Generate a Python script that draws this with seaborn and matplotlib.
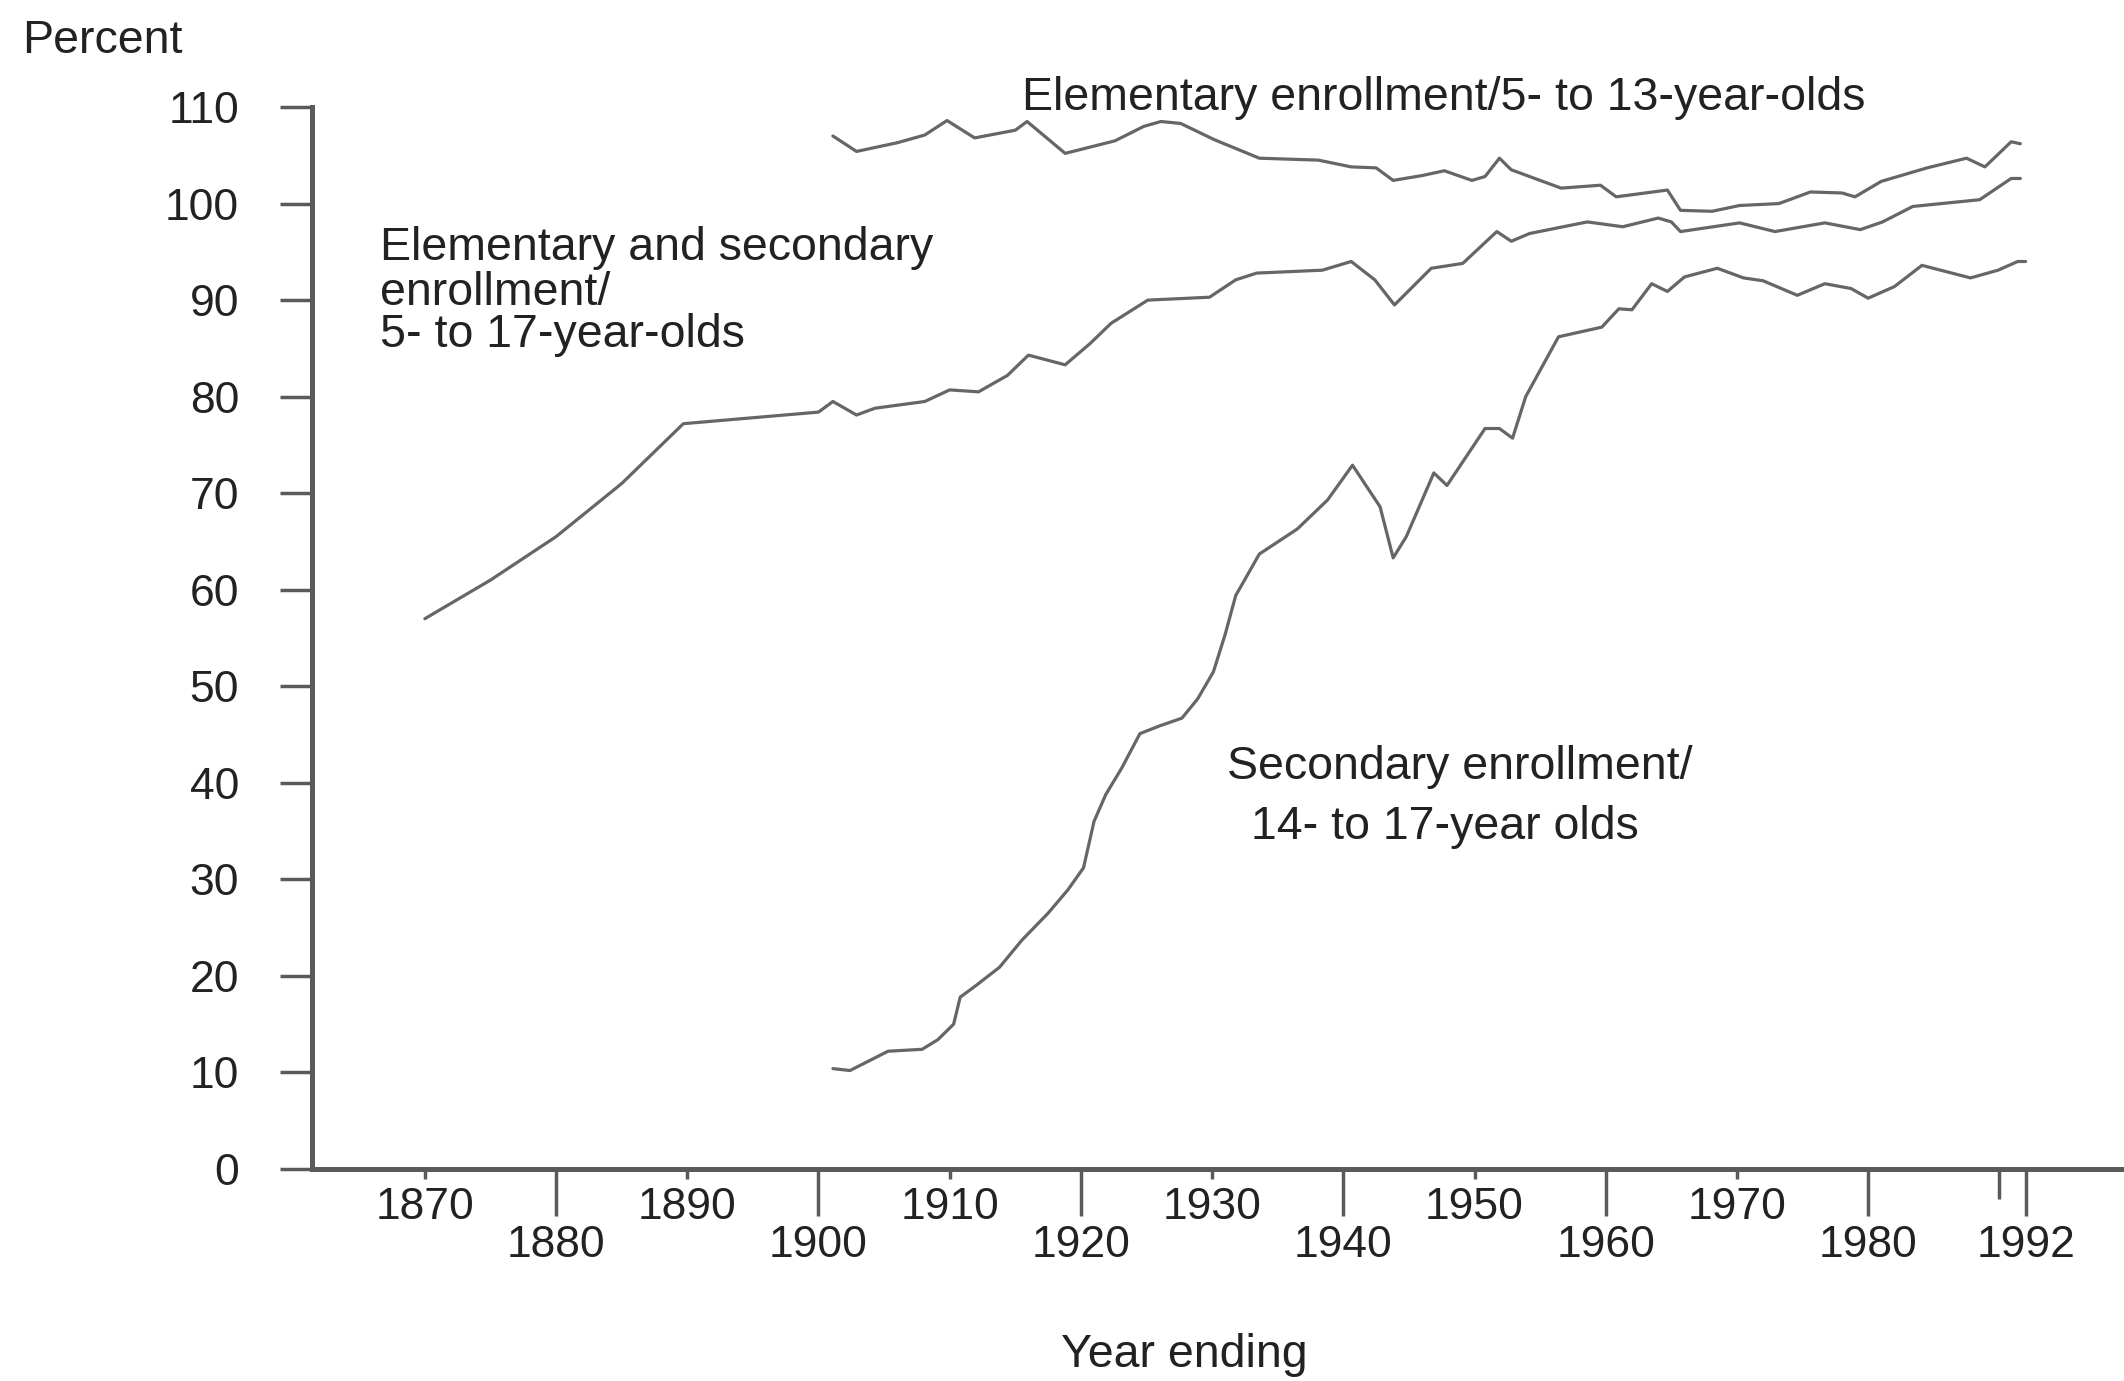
import matplotlib
matplotlib.use("Agg")
import matplotlib.pyplot as plt
import pandas as pd
import seaborn as sns

# Elementary enrollment / 5- to 13-year-olds
elem_years = [1901.1, 1902.9, 1906.0, 1908.1, 1909.8, 1911.9, 1915.0, 1915.9, 1918.8,
              1922.6, 1924.8, 1926.1, 1927.6, 1930.2, 1933.6, 1938.1, 1940.6, 1942.5,
              1943.8, 1946.0, 1947.7, 1949.8, 1950.8, 1951.9, 1952.8, 1956.6, 1959.6,
              1960.8, 1964.7, 1965.7, 1968.1, 1970.2, 1973.2, 1975.6, 1978.0, 1979.0,
              1981.0, 1984.5, 1987.5, 1988.9, 1990.9, 1991.6]
elem_pct = [107.0, 105.4, 106.3, 107.1, 108.6, 106.8, 107.6, 108.5, 105.2,
            106.5, 108.0, 108.5, 108.3, 106.6, 104.7, 104.5, 103.8, 103.7,
            102.4, 102.9, 103.4, 102.4, 102.8, 104.7, 103.5, 101.6, 101.9,
            100.7, 101.4, 99.3, 99.2, 99.8, 100.0, 101.2, 101.1, 100.7,
            102.3, 103.7, 104.7, 103.8, 106.4, 106.2]

# Elementary and secondary enrollment / 5- to 17-year-olds
all_years = [1870.0, 1875.0, 1880.0, 1885.0, 1889.7, 1900.0, 1901.1, 1902.9, 1904.3,
             1908.1, 1910.0, 1912.2, 1914.4, 1916.0, 1918.8, 1920.7, 1922.3, 1925.1,
             1929.8, 1931.8, 1933.4, 1938.4, 1940.6, 1942.4, 1943.9, 1946.7, 1949.1,
             1951.7, 1952.8, 1954.2, 1958.6, 1961.3, 1964.0, 1965.0, 1965.7, 1970.2,
             1972.9, 1976.7, 1979.4, 1981.1, 1983.4, 1988.5, 1990.9, 1991.6]
all_pct = [57.0, 61.0, 65.5, 71.0, 77.2, 78.4, 79.5, 78.1, 78.8,
           79.5, 80.7, 80.5, 82.2, 84.3, 83.3, 85.5, 87.6, 90.0,
           90.3, 92.1, 92.8, 93.1, 94.0, 92.1, 89.5, 93.3, 93.8,
           97.1, 96.1, 96.9, 98.1, 97.6, 98.5, 98.1, 97.1, 98.0,
           97.1, 98.0, 97.3, 98.1, 99.7, 100.4, 102.6, 102.6]

# Secondary enrollment / 14- to 17-year olds
sec_years = [1901.1, 1902.4, 1905.3, 1907.9, 1909.1, 1910.3, 1910.8, 1912.0, 1913.8,
             1915.5, 1917.5, 1919.0, 1920.2, 1921.0, 1921.9, 1923.1, 1924.5, 1926.0,
             1927.7, 1928.9, 1930.1, 1931.0, 1931.8, 1933.6, 1936.5, 1938.8, 1940.7,
             1942.8, 1943.8, 1944.8, 1946.9, 1947.9, 1950.8, 1951.9, 1952.9, 1953.9,
             1956.4, 1959.7, 1961.0, 1962.0, 1963.5, 1964.7, 1966.0, 1968.5, 1970.5,
             1972.0, 1974.6, 1976.7, 1978.7, 1980.0, 1982.0, 1984.1, 1987.8, 1989.9,
             1991.4, 1992.0]
sec_pct = [10.4, 10.2, 12.2, 12.4, 13.4, 15.0, 17.8, 19.0, 20.9,
           23.7, 26.5, 28.9, 31.2, 36.0, 38.8, 41.5, 45.1, 45.9,
           46.7, 48.7, 51.5, 55.4, 59.4, 63.7, 66.3, 69.3, 72.9,
           68.6, 63.3, 65.5, 72.1, 70.8, 76.7, 76.7, 75.7, 80.0,
           86.2, 87.2, 89.1, 89.0, 91.7, 90.9, 92.4, 93.3, 92.3,
           92.0, 90.5, 91.7, 91.2, 90.2, 91.4, 93.6, 92.3, 93.1,
           94.0, 94.0]

upper_ticks = [1870, 1890, 1910, 1930, 1950, 1970]
lower_ticks = [1880, 1900, 1920, 1940, 1960, 1980, 1990, 1992]
lower_labels = ["1880", "1900", "1920", "1940", "1960", "1980", "", "1992"]
y_ticks = [0, 10, 20, 30, 40, 50, 60, 70, 80, 90, 100, 110]

df = pd.concat([
    pd.DataFrame({"year": elem_years, "pct": elem_pct, "series": "elem"}),
    pd.DataFrame({"year": all_years, "pct": all_pct, "series": "all"}),
    pd.DataFrame({"year": sec_years, "pct": sec_pct, "series": "sec"}),
])

sns.set_style("white")
plt.rcParams["font.family"] = ["Liberation Sans", "DejaVu Sans"]
plt.rcParams["text.color"] = "#222222"

line_col = "#666666"
axis_col = "#5a5a5a"

fig = plt.figure(figsize=(21.24, 13.81), dpi=100)
ax = fig.add_axes([0.1469, 0.1535, 0.8531, 0.769])

sns.lineplot(data=df, x="year", y="pct", units="series", estimator=None,
             color=line_col, linewidth=2.3, ax=ax)

ax.set_xlim(1861.4, 1999.5)
ax.set_ylim(0, 110)
ax.set_xlabel("")
ax.set_ylabel("")

ax.set_xticks(upper_ticks, [str(t) for t in upper_ticks])
ax.set_xticks(lower_ticks, lower_labels, minor=True)
ax.set_yticks(y_ticks)

ax.tick_params(axis="x", which="both", bottom=True, direction="out",
               width=2.5, color=axis_col, labelsize=32, labelcolor="#222222")
ax.tick_params(axis="x", which="major", length=7.2, pad=5.8)
ax.tick_params(axis="x", which="minor", length=33.5, pad=6.5)
ax.tick_params(axis="y", left=True, direction="out", length=23, width=2.5,
               pad=29.5, color=axis_col, labelsize=32, labelcolor="#222222")

# the 1990 tick is shorter and has no label
ax.xaxis.get_minor_ticks()[6].tick1line.set_markersize(21.6)

for side in ["top", "right"]:
    ax.spines[side].set_visible(False)
for side in ["bottom", "left"]:
    ax.spines[side].set_linewidth(3.6)
    ax.spines[side].set_color(axis_col)

fs = 33.5
ax.text(1915.5, 109.7, "Elementary enrollment/5- to 13-year-olds",
        fontsize=fs, va="baseline", ha="left", clip_on=False)
ax.text(1866.6, 94.15, "Elementary and secondary", fontsize=fs, va="baseline")
ax.text(1866.6, 89.5, "enrollment/", fontsize=fs, va="baseline")
ax.text(1866.6, 85.1, "5- to 17-year-olds", fontsize=fs, va="baseline")
ax.text(1931.1, 40.4, "Secondary enrollment/", fontsize=fs, va="baseline")
ax.text(1933.0, 34.2, "14- to 17-year olds", fontsize=fs, va="baseline")

fig.text(0.0104, 0.9616, "Percent", fontsize=fs, va="baseline", ha="left")
fig.text(0.5575, 0.0101, "Year ending", fontsize=fs, va="baseline", ha="center")

fig.savefig("out.png", dpi=100)
